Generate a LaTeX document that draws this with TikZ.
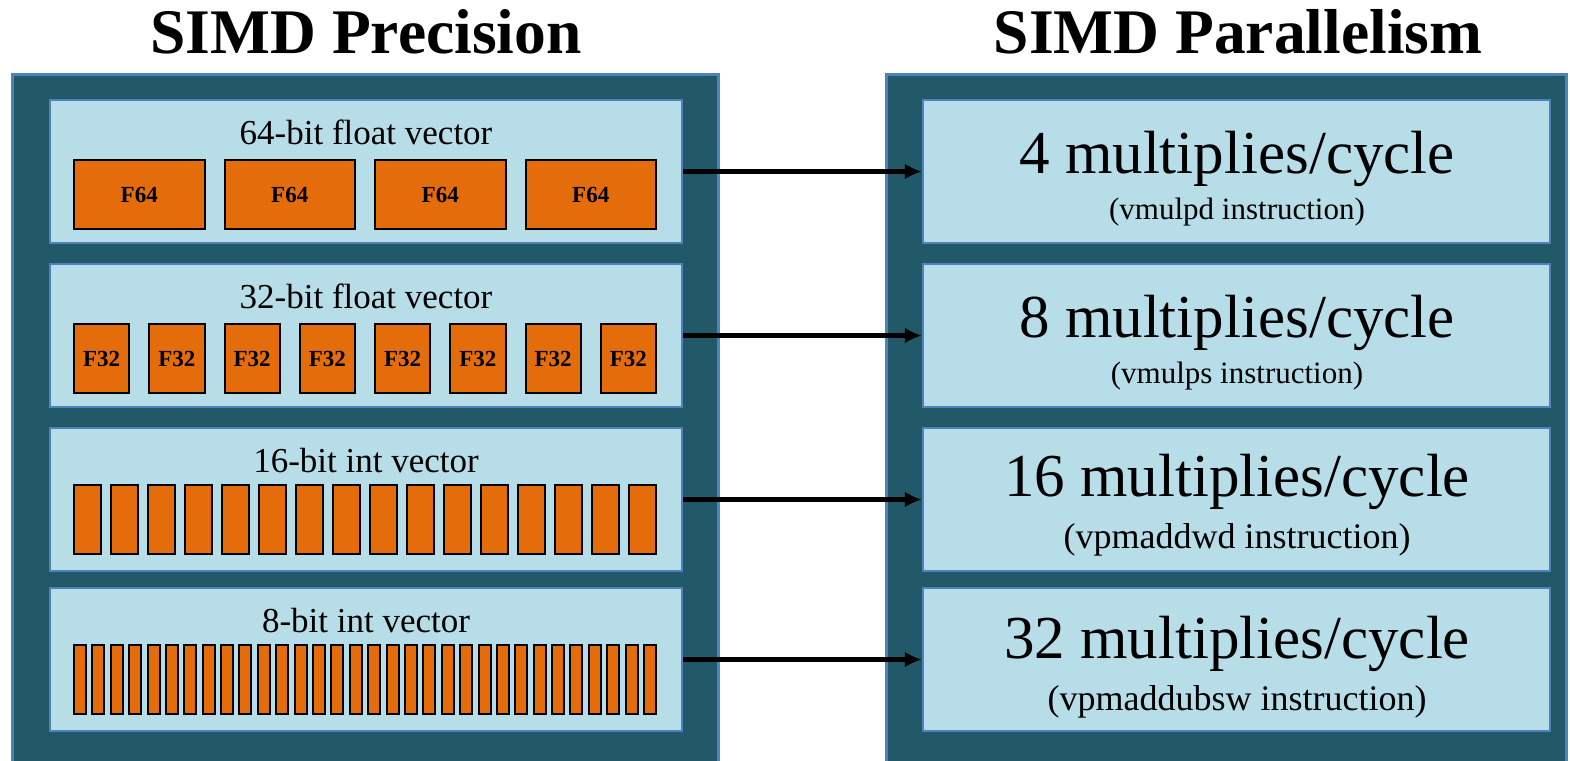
\documentclass[tikz,border=0pt]{standalone}
\usepackage{fontspec}
\setmainfont{Liberation Serif}
\usepackage{tikz}
\usetikzlibrary{arrows.meta}
\definecolor{deep}{HTML}{215968}
\definecolor{pale}{HTML}{B7DDE8}
\definecolor{edge}{HTML}{4F81BD}
\definecolor{rust}{HTML}{E46C0A}
\tikzset{
  panel/.style={draw=edge, fill=deep, line width=3pt},
  lane/.style={draw=edge, fill=pale, line width=2.5pt, inner sep=0pt, minimum height=143pt},
  lanel/.style={lane, minimum width=632pt},
  laner/.style={lane, minimum width=627pt},
  cell/.style={draw=black, fill=rust, line width=2pt, inner sep=0pt, minimum height=69pt, font=\fontsize{23}{26}\selectfont\bfseries},
  heading/.style={font=\fontsize{63.5}{70}\selectfont\bfseries, anchor=base},
  vtag/.style={font=\fontsize{35}{40}\selectfont, anchor=base},
  rate/.style={font=\fontsize{61}{70}\selectfont, anchor=base},
  instr/.style={font=\fontsize{31}{36}\selectfont, anchor=base},
  instrl/.style={font=\fontsize{36}{42}\selectfont, anchor=base},
  conn/.style={draw=black, line width=4.5pt, -{Latex[length=17pt,width=16pt]}},
}
\begin{document}
\begin{tikzpicture}[x=1pt, y=-1pt]
  \useasboundingbox (0,0) rectangle (1570,760);
  % panels and headings
  \draw[panel] (12,74) rectangle (718,766);
  \draw[panel] (886,74) rectangle (1566,766);
  \node[heading] (hp) at (366,53) {SIMD Precision};
  \node[heading] (hq) at (1238,53) {SIMD Parallelism};
  % precision lanes
  \node[lanel] (p1) at (366,171.5) {};
  \node[lanel] (p2) at (366,335.5) {};
  \node[lanel] (p3) at (366,499.5) {};
  \node[lanel] (p4) at (366,659.5) {};
  \node[vtag] (t1) at (366,144) {64-bit float vector};
  \node[vtag] (t2) at (366,308) {32-bit float vector};
  \node[vtag] (t3) at (366,472) {16-bit int vector};
  \node[vtag] (t4) at (366,632) {8-bit int vector};
  % element boxes
  \foreach \k/\top/\n/\g/\txt in {1/160/4/20/F64, 2/324/8/20/F32, 3/485/16/10/{}, 4/645/32/6.4/{}} {
    \pgfmathsetmacro\w{(582-(\n-1)*\g)/\n}
    \foreach \i in {1,...,\n} {
      \node[cell, minimum width=\w pt] (c\k-\i) at ({74+\w/2+(\i-1)*(\w+\g)},{\top+34.5}) {\txt};
    }
  }
  % parallelism lanes
  \node[laner] (q1) at (1236.5,171.5) {};
  \node[laner] (q2) at (1236.5,335.5) {};
  \node[laner] (q3) at (1236.5,499.5) {};
  \node[laner] (q4) at (1236.5,659.5) {};
  \node[rate] (r1) at (1237,173) {4 multiplies/cycle};
  \node[rate] (r2) at (1237,337) {8 multiplies/cycle};
  \node[rate] (r3) at (1237,496) {16 multiplies/cycle};
  \node[rate] (r4) at (1237,658) {32 multiplies/cycle};
  \node[instr] (i1) at (1237,219) {(vmulpd instruction)};
  \node[instr] (i2) at (1237,383) {(vmulps instruction)};
  \node[instrl] (i3) at (1237,548) {(vpmaddwd instruction)};
  \node[instrl] (i4) at (1237,710) {(vpmaddubsw instruction)};
  % connectors
  \draw[conn] (p1.east) -- (q1.west);
  \draw[conn] (p2.east) -- (q2.west);
  \draw[conn] (p3.east) -- (q3.west);
  \draw[conn] (p4.east) -- (q4.west);
\end{tikzpicture}
\end{document}
